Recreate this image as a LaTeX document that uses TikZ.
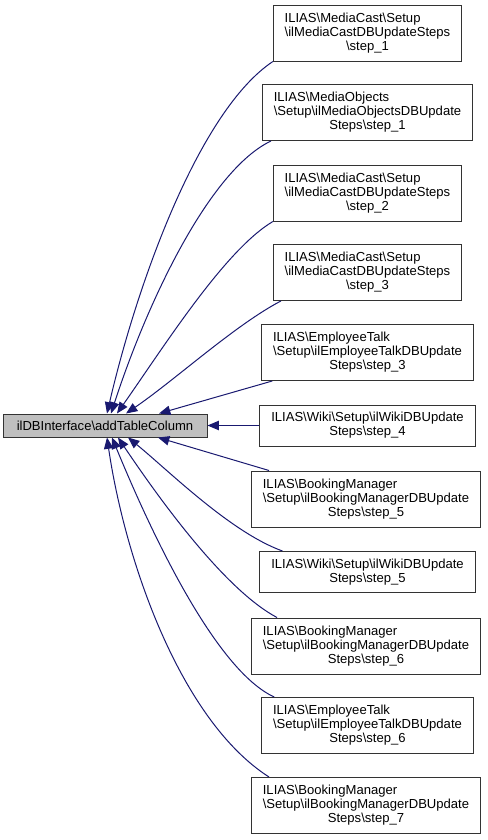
\documentclass[tikz,border=0pt]{standalone}
\usepackage{fontspec}
\setmainfont{Liberation Sans}
\usetikzlibrary{arrows.meta}
\newcommand{\bsl}{\textbackslash}
% first line flush left against the second one
\newcommand{\lfirst}[2]{\rlap{#1}\phantom{#2}\\#2}
\definecolor{edgeblue}{RGB}{25,25,112}
\tikzset{
  px/.style={x=0.75pt, y=-0.75pt},
  cls/.style={draw=black!80, line width=0.75pt, align=center, inner xsep=8.5pt, inner ysep=3pt,
              font=\fontsize{9.8pt}{10.5pt}\selectfont},
  three/.style={cls, minimum height=42pt},
  two/.style={cls, minimum height=30.75pt},
  rootbox/.style={cls, fill=black!25, minimum width=153pt, minimum height=17.25pt},
  calledge/.style={edgeblue, line width=0.75pt, -{Triangle[length=8.5pt,width=7pt]}},
}

\begin{document}
\begin{tikzpicture}[px]
  \useasboundingbox (0,0) rectangle (487,840);
  \node[rootbox] (addcol) at (105,425.5) {ilDBInterface\bsl addTableColumn};
  % callers
  \node[three] (mc1) at (367.5,33) {\lfirst{ILIAS\bsl MediaCast\bsl Setup}{\bsl ilMediaCastDBUpdateSteps}\\\bsl step\_1};
  \node[three] (mo1) at (367.5,112.5) {\lfirst{ILIAS\bsl MediaObjects}{\bsl Setup\bsl ilMediaObjectsDBUpdate}\\Steps\bsl step\_1};
  \node[three] (mc2) at (367.5,193) {\lfirst{ILIAS\bsl MediaCast\bsl Setup}{\bsl ilMediaCastDBUpdateSteps}\\\bsl step\_2};
  \node[three] (mc3) at (367.5,272.5) {\lfirst{ILIAS\bsl MediaCast\bsl Setup}{\bsl ilMediaCastDBUpdateSteps}\\\bsl step\_3};
  \node[three] (et3) at (367.5,352.5) {\lfirst{ILIAS\bsl EmployeeTalk}{\bsl Setup\bsl ilEmployeeTalkDBUpdate}\\Steps\bsl step\_3};
  \node[two]   (wk4) at (367.5,425.5) {ILIAS\bsl Wiki\bsl Setup\bsl ilWikiDBUpdate\\Steps\bsl step\_4};
  \node[three] (bm5) at (366,499) {\lfirst{ILIAS\bsl BookingManager}{\bsl Setup\bsl ilBookingManagerDBUpdate}\\Steps\bsl step\_5};
  \node[two]   (wk5) at (367.5,572) {ILIAS\bsl Wiki\bsl Setup\bsl ilWikiDBUpdate\\Steps\bsl step\_5};
  \node[three] (bm6) at (366,646) {\lfirst{ILIAS\bsl BookingManager}{\bsl Setup\bsl ilBookingManagerDBUpdate}\\Steps\bsl step\_6};
  \node[three] (et6) at (367.5,725.5) {\lfirst{ILIAS\bsl EmployeeTalk}{\bsl Setup\bsl ilEmployeeTalkDBUpdate}\\Steps\bsl step\_6};
  \node[three] (bm7) at (366,805.5) {\lfirst{ILIAS\bsl BookingManager}{\bsl Setup\bsl ilBookingManagerDBUpdate}\\Steps\bsl step\_7};
  % edges into the top of addcol
  \draw[calledge] (mc1.south west) .. controls (200,110) and (138,280) .. ([shift={(2,0)}]addcol.north);
  \draw[calledge] ([shift={(9,0)}]mo1.south west) .. controls (210,170) and (148,300) .. ([shift={(6,0)}]addcol.north);
  \draw[calledge] (mc2.south west) .. controls (225,250) and (165,345) .. ([shift={(12,0)}]addcol.north);
  \draw[calledge] ([shift={(8,0)}]mc3.south west) .. controls (235,325) and (175,380) .. ([shift={(21,0)}]addcol.north);
  \draw[calledge] ([shift={(11,0)}]et3.south west) -- ([shift={(54,0)}]addcol.north);
  \draw[calledge] (wk4) -- (addcol);
  % edges into the bottom of addcol
  \draw[calledge] ([shift={(18,0)}]bm5.north west) -- ([shift={(53,0)}]addcol.south);
  \draw[calledge] ([shift={(23,0)}]wk5.north west) .. controls (230,532) and (168,470) .. ([shift={(23,0)}]addcol.south);
  \draw[calledge] ([shift={(26,0)}]bm6.north west) .. controls (225,590) and (160,500) .. ([shift={(13,0)}]addcol.south);
  \draw[calledge] ([shift={(13,0)}]et6.north west) .. controls (215,670) and (150,530) .. ([shift={(7,0)}]addcol.south);
  \draw[calledge] ([shift={(18,0)}]bm7.north west) .. controls (180,720) and (125,560) .. ([shift={(2,0)}]addcol.south);
\end{tikzpicture}
\end{document}
